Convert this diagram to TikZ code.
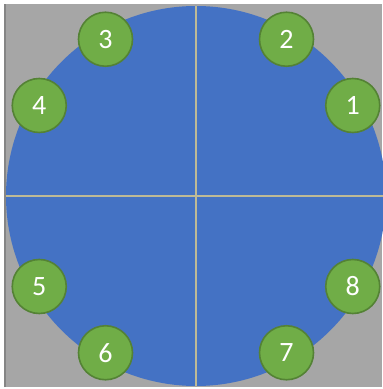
\documentclass[tikz,border=0pt]{standalone}
\usepackage{fontspec}
\setmainfont{Carlito}
\definecolor{plate}{RGB}{166,166,166}
\definecolor{disc}{RGB}{68,114,196}
\definecolor{hole}{RGB}{112,173,71}
\definecolor{holeedge}{RGB}{84,130,53}
\definecolor{axisline}{RGB}{190,186,150}
\begin{document}
\begin{tikzpicture}[x=0.5pt,y=0.5pt,
  pin/.style={circle,fill=hole,draw=holeedge,line width=0.8pt,minimum size=27pt,inner sep=0pt,
    text=white,font=\fontsize{14}{14}\selectfont}]
\useasboundingbox (-196,-193) rectangle (186,196);
\fill[plate] (-192,-191) rectangle (186,192);
\draw[plate!80!black,line width=1pt] (-191,-191) -- (-191,192);
\fill[disc] (0,0) circle (190);
\draw[axisline,line width=0.6pt] (0,-190) -- (0,190);
\draw[axisline,line width=0.6pt] (-190,0) -- (190,0);
\node[pin] (p1) at (30:181) {1};
\node[pin] (p2) at (60:181) {2};
\node[pin] (p3) at (120:181) {3};
\node[pin] (p4) at (150:181) {4};
\node[pin] (p5) at (210:181) {5};
\node[pin] (p6) at (240:181) {6};
\node[pin] (p7) at (300:181) {7};
\node[pin] (p8) at (330:181) {8};
\end{tikzpicture}
\end{document}
